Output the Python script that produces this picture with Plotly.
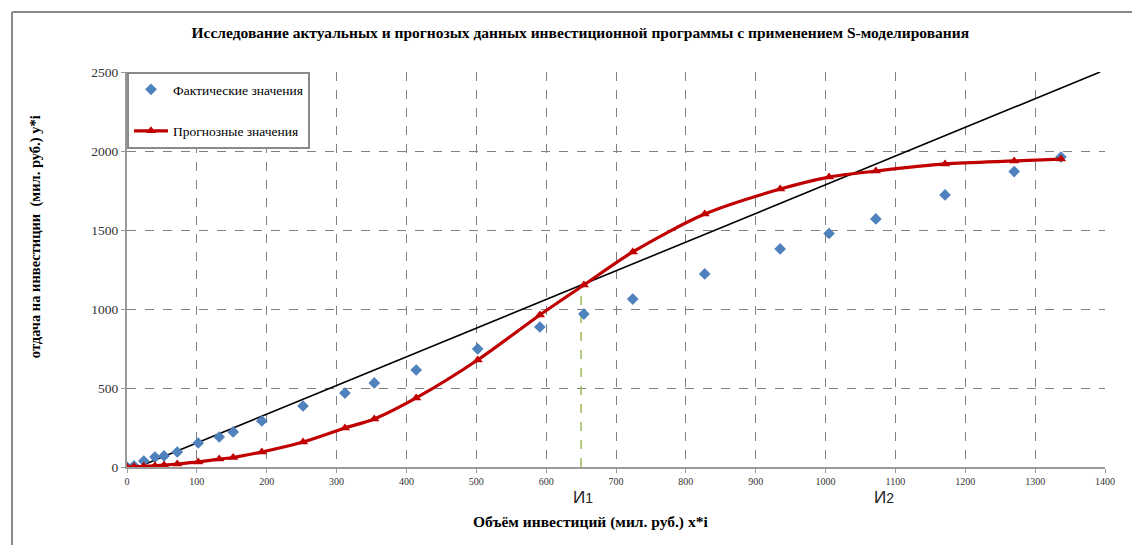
import plotly.graph_objects as go

# ---- data ----
invest_x = [0, 10, 24, 40, 53, 72, 102, 132, 152, 193, 252, 312, 354, 414, 502,
            591, 654, 724, 827, 935, 1005, 1072, 1171, 1270, 1337]
fact_y = [0, 8, 38, 63, 70, 95, 152, 190, 222, 291, 386, 468, 532, 614, 747,
          886, 968, 1063, 1222, 1380, 1478, 1570, 1722, 1870, 1962]
forecast_y = [0, 2, 4, 8, 12, 19, 32, 50, 60, 95, 158, 247, 304, 437, 677,
              962, 1152, 1361, 1601, 1759, 1835, 1873, 1918, 1937, 1949]
line_x = [16, 1393]
line_y = [0, 2500]
i1_x = [650, 650]
i1_y = [0, 1090]
marks = ["И<span style='font-size:14px'>1</span>", "И<span style='font-size:14px'>2</span>"]
marks_x = [653, 1083]

title = "Исследование актуальных и прогнозых данных инвестиционной программы с применением S-моделирования"
x_title = "Объём инвестиций (мил. руб.) х*i"
y_title = "отдача на инвестиции  (мил. руб.) у*i"

SERIF = "Liberation Serif, Times New Roman, serif"

fig = go.Figure()
fig.add_trace(go.Scatter(
    x=line_x, y=line_y, mode="lines",
    line=dict(color="black", width=1.6), showlegend=False, hoverinfo="skip"))
fig.add_trace(go.Scatter(
    x=i1_x, y=i1_y, mode="lines",
    line=dict(color="#9BBB59", width=1.5, dash="dash"), showlegend=False, hoverinfo="skip"))
fig.add_trace(go.Scatter(
    x=invest_x, y=fact_y, mode="markers", name="Фактические значения",
    legendgroup="a",
    marker=dict(symbol="diamond", size=9, color="#4F81BD")))
fig.add_trace(go.Scatter(
    x=invest_x, y=forecast_y, mode="lines+markers", name="Прогнозные значения",
    legendgroup="b",
    line=dict(color="#C00000", width=3.2, shape="spline", smoothing=0.8),
    marker=dict(symbol="triangle-up", size=9, color="#C00000")))

for t, xv in zip(marks, marks_x):
    fig.add_annotation(x=xv, y=-0.076, xref="x", yref="paper", text=t,
                       xanchor="center", yanchor="middle", showarrow=False,
                       font=dict(family="Liberation Sans, Arial", size=17, color="#222"))

# axis titles
fig.add_annotation(x=0.474, y=-0.139, xref="paper", yref="paper", text="<b>" + x_title + "</b>",
                   xanchor="center", yanchor="middle", showarrow=False,
                   font=dict(family=SERIF, size=15.5, color="black"))
fig.add_annotation(x=-0.094, y=0.582, xref="paper", yref="paper", text="<b>" + y_title + "</b>",
                   textangle=-90, xanchor="center", yanchor="middle", showarrow=False,
                   font=dict(family=SERIF, size=14.5, color="black"))

# outer frame (left and top)
fig.add_shape(type="line", xref="paper", yref="paper", x0=-0.1176, x1=-0.1176, y0=-0.25, y1=1.152,
              line=dict(color="#8a8a8a", width=2))
fig.add_shape(type="line", xref="paper", yref="paper", x0=-0.1176, x1=1.06, y0=1.152, y1=1.152,
              line=dict(color="#8a8a8a", width=2))

fig.update_layout(
    width=1140, height=545,
    margin=dict(l=119, r=43, t=64, b=86),
    paper_bgcolor="white", plot_bgcolor="white",
    title=dict(text="<b>" + title + "</b>", x=0.502, xanchor="center", y=0.954, yanchor="middle",
               font=dict(family=SERIF, size=15.5, color="black")),
    legend=dict(x=0.0, y=1.0, xanchor="left", yanchor="top",
                bgcolor="white", bordercolor="#8a8a8a", borderwidth=2,
                font=dict(family=SERIF, size=13.5, color="black"),
                tracegroupgap=21, itemwidth=34),
    showlegend=True,
)
fig.update_xaxes(
    range=[0, 1400], dtick=100, tick0=0,
    showgrid=True, gridcolor="#7f7f7f", griddash="dash", gridwidth=1.3,
    showline=True, linecolor="#9a9a9a", linewidth=2,
    ticks="outside", ticklen=4, tickcolor="#9a9a9a",
    tickfont=dict(family=SERIF, size=10, color="#333"),
    zeroline=False,
)
fig.update_yaxes(
    range=[0, 2500], dtick=500, tick0=0,
    showgrid=True, gridcolor="#7f7f7f", griddash="dash", gridwidth=1.3,
    showline=True, linecolor="#9a9a9a", linewidth=2,
    ticks="outside", ticklen=4, tickcolor="#9a9a9a",
    tickfont=dict(family=SERIF, size=13.5, color="#333"),
    zeroline=False,
)

fig.write_html("out.html")
